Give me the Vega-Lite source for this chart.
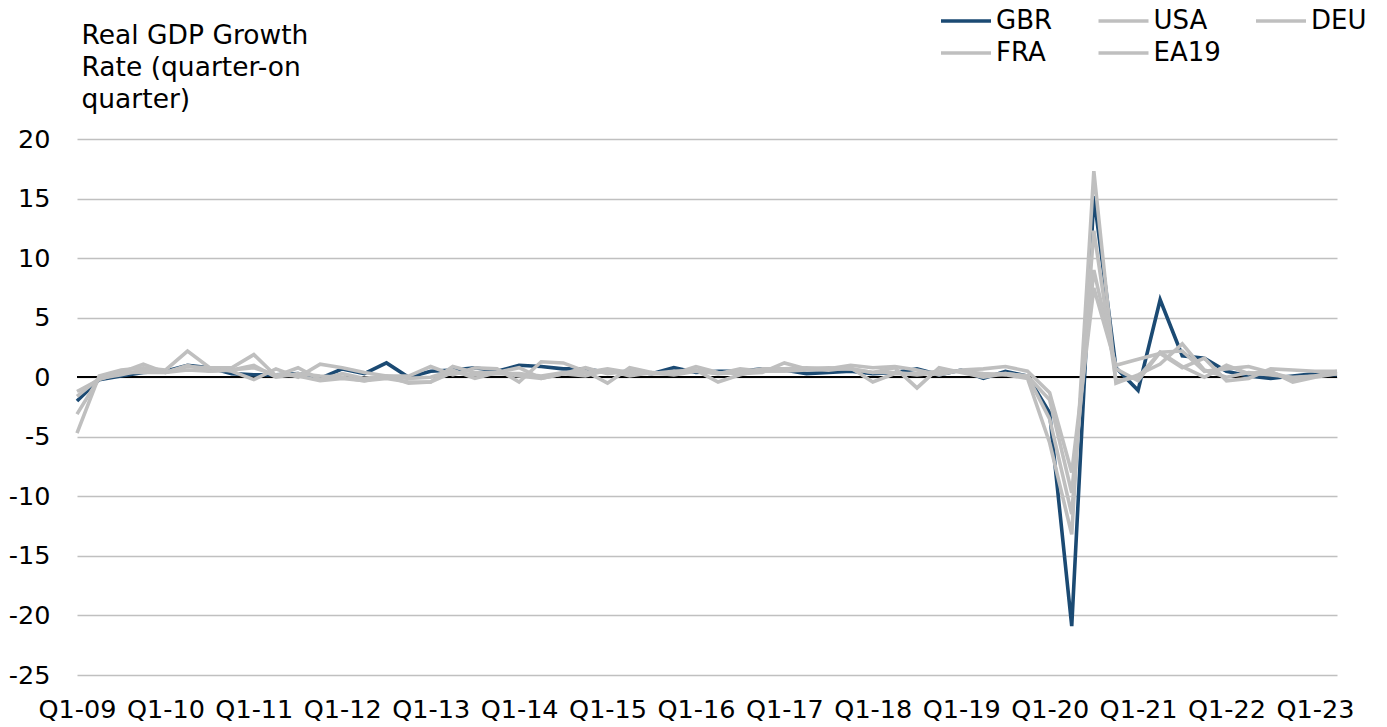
{
  "$schema": "https://vega.github.io/schema/vega-lite/v6.json",
  "width": 1260,
  "height": 536,
  "autosize": {"type": "none"},
  "padding": {"left": 77, "top": 139, "right": 50, "bottom": 52},
  "background": "white",
  "config": {"view": {"stroke": null}, "font": "DejaVu Sans"},
  "data": {"values": [
    {"q": "Q1-09", "GBR": -2.0, "USA": -1.2, "DEU": -4.7, "FRA": -1.6, "EA19": -3.1},
    {"q": "Q2-09", "GBR": -0.2, "USA": -0.2, "DEU": 0.1, "FRA": -0.1, "EA19": -0.1},
    {"q": "Q3-09", "GBR": 0.1, "USA": 0.4, "DEU": 0.6, "FRA": 0.2, "EA19": 0.4},
    {"q": "Q4-09", "GBR": 0.4, "USA": 1.1, "DEU": 0.8, "FRA": 0.6, "EA19": 0.4},
    {"q": "Q1-10", "GBR": 0.5, "USA": 0.4, "DEU": 0.6, "FRA": 0.4, "EA19": 0.4},
    {"q": "Q2-10", "GBR": 1.0, "USA": 0.9, "DEU": 2.2, "FRA": 0.6, "EA19": 1.0},
    {"q": "Q3-10", "GBR": 0.8, "USA": 0.8, "DEU": 0.8, "FRA": 0.5, "EA19": 0.5},
    {"q": "Q4-10", "GBR": 0.3, "USA": 0.5, "DEU": 0.8, "FRA": 0.6, "EA19": 0.6},
    {"q": "Q1-11", "GBR": 0.2, "USA": -0.2, "DEU": 1.9, "FRA": 1.0, "EA19": 0.8},
    {"q": "Q2-11", "GBR": 0.2, "USA": 0.7, "DEU": 0.1, "FRA": 0.0, "EA19": 0.2},
    {"q": "Q3-11", "GBR": 0.3, "USA": 0.0, "DEU": 0.8, "FRA": 0.3, "EA19": 0.1},
    {"q": "Q4-11", "GBR": -0.1, "USA": 1.1, "DEU": -0.2, "FRA": 0.1, "EA19": -0.3},
    {"q": "Q1-12", "GBR": 0.7, "USA": 0.8, "DEU": 0.3, "FRA": 0.0, "EA19": -0.1},
    {"q": "Q2-12", "GBR": 0.3, "USA": 0.4, "DEU": -0.1, "FRA": -0.3, "EA19": -0.3},
    {"q": "Q3-12", "GBR": 1.2, "USA": 0.1, "DEU": 0.1, "FRA": 0.1, "EA19": -0.1},
    {"q": "Q4-12", "GBR": 0.0, "USA": 0.1, "DEU": -0.5, "FRA": -0.1, "EA19": -0.4},
    {"q": "Q1-13", "GBR": 0.5, "USA": 0.9, "DEU": -0.4, "FRA": 0.0, "EA19": -0.4},
    {"q": "Q2-13", "GBR": 0.6, "USA": 0.2, "DEU": 0.9, "FRA": 0.6, "EA19": 0.4},
    {"q": "Q3-13", "GBR": 0.8, "USA": 0.8, "DEU": 0.4, "FRA": -0.1, "EA19": 0.2},
    {"q": "Q4-13", "GBR": 0.5, "USA": 0.7, "DEU": 0.4, "FRA": 0.4, "EA19": 0.3},
    {"q": "Q1-14", "GBR": 1.0, "USA": -0.4, "DEU": 0.8, "FRA": 0.1, "EA19": 0.3},
    {"q": "Q2-14", "GBR": 0.9, "USA": 1.3, "DEU": -0.1, "FRA": -0.1, "EA19": 0.1},
    {"q": "Q3-14", "GBR": 0.7, "USA": 1.2, "DEU": 0.3, "FRA": 0.3, "EA19": 0.4},
    {"q": "Q4-14", "GBR": 0.7, "USA": 0.5, "DEU": 0.8, "FRA": 0.1, "EA19": 0.4},
    {"q": "Q1-15", "GBR": 0.4, "USA": -0.5, "DEU": 0.3, "FRA": 0.6, "EA19": 0.7},
    {"q": "Q2-15", "GBR": 0.5, "USA": 0.8, "DEU": 0.5, "FRA": 0.1, "EA19": 0.4},
    {"q": "Q3-15", "GBR": 0.3, "USA": 0.4, "DEU": 0.3, "FRA": 0.4, "EA19": 0.3},
    {"q": "Q4-15", "GBR": 0.8, "USA": 0.2, "DEU": 0.3, "FRA": 0.3, "EA19": 0.5},
    {"q": "Q1-16", "GBR": 0.4, "USA": 0.5, "DEU": 0.9, "FRA": 0.6, "EA19": 0.6},
    {"q": "Q2-16", "GBR": 0.5, "USA": 0.3, "DEU": 0.4, "FRA": -0.4, "EA19": 0.3},
    {"q": "Q3-16", "GBR": 0.5, "USA": 0.7, "DEU": 0.3, "FRA": 0.2, "EA19": 0.4},
    {"q": "Q4-16", "GBR": 0.7, "USA": 0.5, "DEU": 0.4, "FRA": 0.6, "EA19": 0.7},
    {"q": "Q1-17", "GBR": 0.6, "USA": 0.5, "DEU": 1.2, "FRA": 0.7, "EA19": 0.7},
    {"q": "Q2-17", "GBR": 0.3, "USA": 0.6, "DEU": 0.7, "FRA": 0.7, "EA19": 0.8},
    {"q": "Q3-17", "GBR": 0.4, "USA": 0.7, "DEU": 0.8, "FRA": 0.6, "EA19": 0.7},
    {"q": "Q4-17", "GBR": 0.5, "USA": 1.0, "DEU": 0.7, "FRA": 0.8, "EA19": 0.7},
    {"q": "Q1-18", "GBR": 0.3, "USA": 0.8, "DEU": 0.4, "FRA": -0.4, "EA19": 0.4},
    {"q": "Q2-18", "GBR": 0.4, "USA": 0.9, "DEU": 0.8, "FRA": 0.3, "EA19": 0.4},
    {"q": "Q3-18", "GBR": 0.7, "USA": 0.6, "DEU": -0.9, "FRA": 0.3, "EA19": 0.2},
    {"q": "Q4-18", "GBR": 0.2, "USA": 0.2, "DEU": 0.8, "FRA": 0.5, "EA19": 0.4},
    {"q": "Q1-19", "GBR": 0.6, "USA": 0.6, "DEU": 0.4, "FRA": 0.5, "EA19": 0.5},
    {"q": "Q2-19", "GBR": -0.1, "USA": 0.7, "DEU": 0.0, "FRA": 0.3, "EA19": 0.2},
    {"q": "Q3-19", "GBR": 0.5, "USA": 0.9, "DEU": 0.3, "FRA": 0.2, "EA19": 0.3},
    {"q": "Q4-19", "GBR": 0.1, "USA": 0.5, "DEU": 0.1, "FRA": -0.1, "EA19": 0.1},
    {"q": "Q1-20", "GBR": -3.0, "USA": -1.3, "DEU": -1.9, "FRA": -5.5, "EA19": -3.5},
    {"q": "Q2-20", "GBR": -20.9, "USA": -8.0, "DEU": -9.7, "FRA": -13.2, "EA19": -11.5},
    {"q": "Q3-20", "GBR": 15.2, "USA": 7.5, "DEU": 9.0, "FRA": 17.3, "EA19": 12.3},
    {"q": "Q4-20", "GBR": 0.8, "USA": 1.0, "DEU": 0.7, "FRA": -0.5, "EA19": -0.3},
    {"q": "Q1-21", "GBR": -1.1, "USA": 1.5, "DEU": -0.3, "FRA": 0.2, "EA19": 0.0},
    {"q": "Q2-21", "GBR": 6.5, "USA": 2.0, "DEU": 2.1, "FRA": 1.1, "EA19": 2.1},
    {"q": "Q3-21", "GBR": 1.8, "USA": 0.8, "DEU": 0.9, "FRA": 2.8, "EA19": 2.2},
    {"q": "Q4-21", "GBR": 1.6, "USA": 1.6, "DEU": 0.0, "FRA": 0.6, "EA19": 0.5},
    {"q": "Q1-22", "GBR": 0.5, "USA": -0.3, "DEU": 1.0, "FRA": 0.0, "EA19": 0.7},
    {"q": "Q2-22", "GBR": 0.1, "USA": -0.1, "DEU": 0.3, "FRA": 0.4, "EA19": 0.9},
    {"q": "Q3-22", "GBR": -0.1, "USA": 0.7, "DEU": 0.5, "FRA": 0.2, "EA19": 0.4},
    {"q": "Q4-22", "GBR": 0.1, "USA": 0.6, "DEU": -0.4, "FRA": 0.0, "EA19": -0.1},
    {"q": "Q1-23", "GBR": 0.3, "USA": 0.5, "DEU": 0.0, "FRA": 0.1, "EA19": 0.1},
    {"q": "Q2-23", "GBR": 0.2, "USA": 0.5, "DEU": 0.3, "FRA": 0.5, "EA19": 0.3}
  ]},
  "layer": [
    {
      "transform": [{"fold": ["GBR", "USA", "DEU", "FRA", "EA19"], "as": ["series", "value"]}],
      "mark": {"type": "rule", "color": "#000000", "strokeWidth": 1.3},
      "encoding": {"y": {"datum": 0, "type": "quantitative"}}
    },
    {
      "transform": [{"fold": ["GBR", "USA", "DEU", "FRA", "EA19"], "as": ["series", "value"]}],
      "mark": {"type": "line", "strokeWidth": 3.6, "strokeJoin": "miter", "strokeCap": "butt"},
      "encoding": {
        "x": {
          "field": "q", "type": "ordinal", "sort": null,
          "scale": {"type": "point", "padding": 0},
          "axis": {
            "values": ["Q1-09", "Q1-10", "Q1-11", "Q1-12", "Q1-13", "Q1-14", "Q1-15", "Q1-16", "Q1-17", "Q1-18", "Q1-19", "Q1-20", "Q1-21", "Q1-22", "Q1-23"],
            "title": null, "labelAngle": 0, "domain": false, "ticks": false, "grid": false,
            "labelFont": "DejaVu Sans", "labelFontSize": 25.5, "labelColor": "#000000",
            "labelPadding": 22, "labelOverlap": false, "labelBound": false, "labelFlush": false
          }
        },
        "y": {
          "field": "value", "type": "quantitative",
          "scale": {"domain": [-25, 20], "nice": false, "zero": false},
          "axis": {
            "values": [-25, -20, -15, -10, -5, 0, 5, 10, 15, 20],
            "labelExpr": "'' + datum.value",
            "title": ["Real GDP Growth", "Rate (quarter-on", "quarter)"],
            "titleAngle": 0, "titleAlign": "left", "titleBaseline": "alphabetic",
            "titleX": 4, "titleY": -96, "titleLineHeight": 32,
            "titleFont": "DejaVu Sans", "titleFontSize": 26.5, "titleFontWeight": "normal", "titleColor": "#000000",
            "grid": true, "gridColor": "#c0c0c0", "gridWidth": 1.5,
            "domain": false, "ticks": false,
            "labelFont": "DejaVu Sans", "labelFontSize": 25.5, "labelColor": "#000000", "labelPadding": 27
          }
        },
        "color": {
          "field": "series", "type": "nominal",
          "scale": {"domain": ["GBR", "USA", "DEU", "FRA", "EA19"], "range": ["#1b4a73", "#bfbfbf", "#bfbfbf", "#bfbfbf", "#bfbfbf"]},
          "legend": {
            "orient": "none", "legendX": 861, "legendY": -131,
            "direction": "horizontal", "columns": 3, "title": null,
            "symbolType": "M-1,0H4", "symbolSize": 400, "symbolStrokeWidth": 3.6,
            "labelFont": "DejaVu Sans", "labelFontSize": 26, "labelColor": "#000000",
            "labelOffset": 32, "columnPadding": 26.5, "rowPadding": 6, "gridAlign": "all"
          }
        }
      }
    }
  ]
}
